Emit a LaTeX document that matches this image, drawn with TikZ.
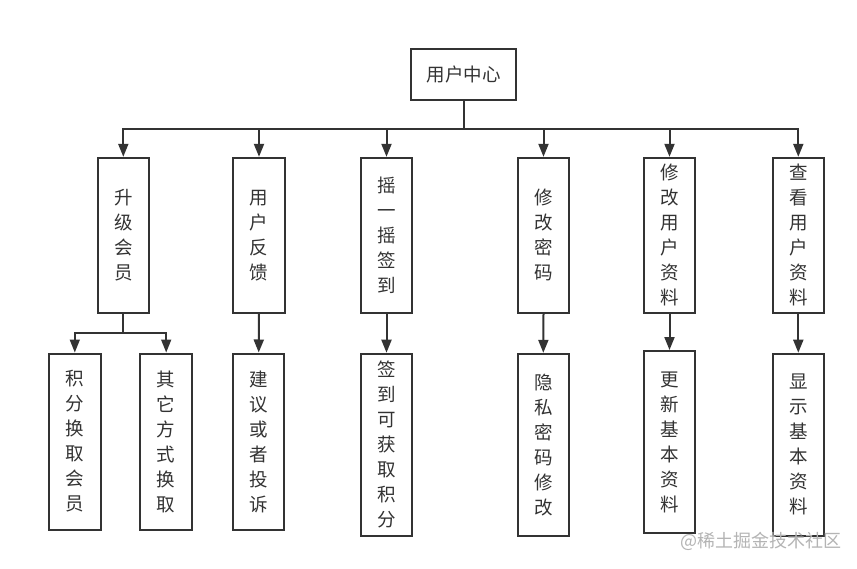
\documentclass[tikz,border=0pt]{standalone}
\usepackage{fontspec}
\newfontfamily\cjk{Noto Sans CJK SC}
\usetikzlibrary{arrows.meta}
\definecolor{ink}{HTML}{333333}
\definecolor{wm}{HTML}{B4B4B4}
\tikzset{
  box/.style={draw=ink, line width=2pt, inner sep=0pt, text=ink, align=center,
    font=\cjk\fontsize{18.5}{25}\selectfont, minimum width=51.5pt},
  rootbox/.style={box, minimum width=105pt, minimum height=51pt},
  lone/.style={box, minimum height=155pt},
  ltwo/.style={box, minimum height=182pt},
  ltwos/.style={box, minimum height=176pt},
  conn/.style={draw=ink, line width=2pt},
  arr/.style={conn, -{Triangle[length=13pt,width=10pt]}},
  subarr/.style={draw=ink, line width=1.6pt, -{Triangle[length=13pt,width=10pt]}},
  watermark/.style={text=wm, font=\cjk\fontsize{18}{20}\selectfont, inner sep=0pt}
}
\begin{document}
\begin{tikzpicture}[x=1pt,y=-1pt]
\useasboundingbox[fill=white] (0,0) rectangle (857,568);
% root
\node[rootbox] (root) at (463.5,74.5) {用户中心};
% level 1
\node[lone] (a) at (123.3,235.3) {升\\级\\会\\员};
\node[lone] (b) at (259,235.3) {用\\户\\反\\馈};
\node[lone] (c) at (386.5,235.3) {摇\\一\\摇\\签\\到};
\node[lone] (d) at (543.5,235.3) {修\\改\\密\\码};
\node[lone] (e) at (669.5,235.3) {修\\改\\用\\户\\资\\料};
\node[lone] (f) at (798.3,235.3) {查\\看\\用\\户\\资\\料};
% level 2
\node[ltwos] (a1) at (74.8,441.5) {积\\分\\换\\取\\会\\员};
\node[ltwos] (a2) at (166.2,441.5) {其\\它\\方\\式\\换\\取};
\node[ltwos] (b1) at (258.7,441.5) {建\\议\\或\\者\\投\\诉};
\node[ltwo] (c1) at (386.5,444.7) {签\\到\\可\\获\\取\\积\\分};
\node[ltwo] (d1) at (543.3,444.8) {隐\\私\\密\\码\\修\\改};
\node[ltwo] (e1) at (669.5,442) {更\\新\\基\\本\\资\\料};
\node[ltwo] (f1) at (798.3,444.7) {显\\示\\基\\本\\资\\料};
% buses
\coordinate (bus) at (463.5,128.7);
\coordinate (subbus) at (123.3,333);
\foreach \t in {a,b,c,d,e,f}
  \draw[arr] (root.south) -- (root.south |- bus) -| (\t.north);
\draw[conn] (a.south) -- (subbus);
\draw[subarr] (subbus) -| (a1.north);
\draw[subarr] (subbus) -| (a2.north);
\draw[arr] (b.south) -- (b1.north);
\draw[arr] (c.south) -- (c1.north);
\draw[arr] (d.south) -- (d1.north);
\draw[arr] (e.south) -- (e1.north);
\draw[arr] (f.south) -- (f1.north);
% watermark
\node[watermark, anchor=west] (wmk) at (680,541) {@稀土掘金技术社区};
\end{tikzpicture}
\end{document}
